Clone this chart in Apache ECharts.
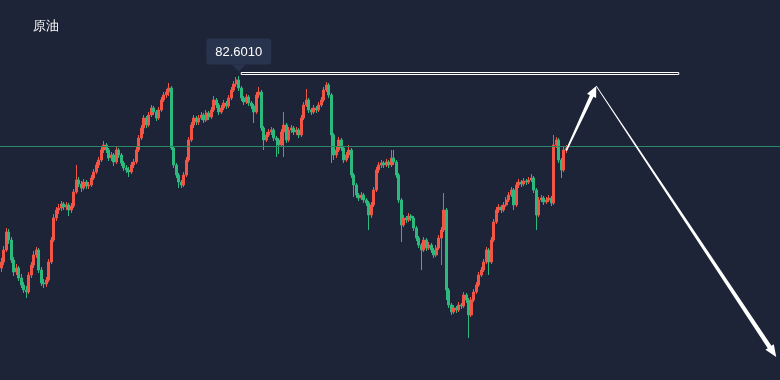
<!DOCTYPE html>
<html>
<head>
<meta charset="utf-8">
<script src="https://cdn.jsdelivr.net/npm/echarts@6/dist/echarts.min.js"></script>
<style>
html,body{margin:0;padding:0;background:#1d2437;}
#c{width:780px;height:380px;}
</style>
</head>
<body>
<div id="c"></div>
<script>
// ---- data ----
const titleText = '原油';
const openP = [
73.00,73.30,73.90,74.80,74.40,73.40,72.80,73.00,72.50,72.15,
71.90,71.80,72.65,73.15,73.65,73.90,72.90,72.25,72.20,72.40,
73.30,74.40,75.50,75.90,76.00,76.20,76.05,76.15,75.90,76.10,
76.80,77.40,77.20,77.00,77.30,77.10,77.15,77.50,77.80,78.15,
78.40,78.90,79.15,78.90,78.50,78.65,78.30,78.90,78.65,78.25,
78.00,77.90,77.80,78.15,78.30,78.90,79.50,80.00,80.50,80.15,
80.65,81.00,80.80,80.50,80.90,81.40,81.65,81.80,82.00,79.00,
78.15,77.65,77.30,77.15,77.65,78.40,79.40,80.15,80.50,80.30,
80.50,80.65,80.40,80.75,80.55,80.90,81.40,81.15,80.80,81.00,
81.25,81.10,81.50,81.90,82.20,82.40,82.00,81.50,81.30,81.55,
81.25,81.10,80.80,81.65,81.80,80.00,79.40,79.65,79.80,79.90,
79.50,79.40,79.15,79.80,80.15,79.40,79.90,80.00,79.80,79.90,
79.65,80.50,81.15,81.40,80.90,80.80,81.00,80.90,81.15,81.40,
81.90,82.15,81.65,79.65,78.65,78.90,79.40,79.00,78.40,78.65,
78.90,77.65,77.15,76.65,76.50,76.65,76.40,76.25,75.65,76.15,
76.90,77.90,78.15,78.25,78.15,78.30,78.15,78.50,78.30,77.65,
76.40,75.15,75.50,75.40,75.60,75.50,75.00,74.50,74.15,73.90,
74.40,74.00,74.15,73.90,73.65,74.00,74.50,74.90,75.90,71.90,
71.15,70.80,71.00,70.90,71.15,71.10,71.65,71.40,70.65,71.40,
71.80,72.15,72.65,72.90,73.30,73.90,73.30,74.40,75.30,75.90,
76.05,75.90,76.15,76.40,76.65,76.90,76.15,77.15,77.30,77.20,
77.35,77.30,77.40,77.50,76.90,75.65,76.40,76.50,76.30,76.40,
76.50,76.25,79.15,79.40,78.40,77.90,78.90
];
const closeP = [
73.30,73.90,74.80,74.40,73.40,72.80,73.00,72.50,72.15,71.90,
71.80,72.65,73.15,73.65,73.90,72.90,72.25,72.20,72.40,73.30,
74.40,75.50,75.90,76.00,76.20,76.05,76.15,75.90,76.10,76.80,
77.40,77.20,77.00,77.30,77.10,77.15,77.50,77.80,78.15,78.40,
78.90,79.15,78.90,78.50,78.65,78.30,78.90,78.65,78.25,78.00,
77.90,77.80,78.15,78.30,78.90,79.50,80.00,80.50,80.15,80.65,
81.00,80.80,80.50,80.90,81.40,81.65,81.80,82.00,79.00,78.15,
77.65,77.30,77.15,77.65,78.40,79.40,80.15,80.50,80.30,80.50,
80.65,80.40,80.75,80.55,80.90,81.40,81.15,80.80,81.00,81.25,
81.10,81.50,81.90,82.20,82.40,82.00,81.50,81.30,81.55,81.25,
81.10,80.80,81.65,81.80,80.00,79.40,79.65,79.80,79.90,79.50,
79.40,79.15,79.80,80.15,79.40,79.90,80.00,79.80,79.90,79.65,
80.50,81.15,81.40,80.90,80.80,81.00,80.90,81.15,81.40,81.90,
82.15,81.65,79.65,78.65,78.90,79.40,79.00,78.40,78.65,78.90,
77.65,77.15,76.65,76.50,76.65,76.40,76.25,75.65,76.15,76.90,
77.90,78.15,78.25,78.15,78.30,78.15,78.50,78.30,77.65,76.40,
75.15,75.50,75.40,75.60,75.50,75.00,74.50,74.15,73.90,74.40,
74.00,74.15,73.90,73.65,74.00,74.50,74.90,75.90,71.90,71.15,
70.80,71.00,70.90,71.15,71.10,71.65,71.40,70.65,71.40,71.80,
72.15,72.65,72.90,73.30,73.90,73.30,74.40,75.30,75.90,76.05,
75.90,76.15,76.40,76.65,76.90,76.15,77.15,77.30,77.20,77.35,
77.30,77.40,77.50,76.90,75.65,76.40,76.50,76.30,76.40,76.50,
76.25,79.15,79.40,78.40,77.90,78.90,79.00
];
const lowP = [
72.80,73.15,73.80,74.20,73.25,72.60,72.65,72.35,72.00,71.75,
71.50,71.70,72.50,73.00,73.50,72.75,72.10,72.00,72.05,72.30,
73.20,74.30,75.35,75.70,75.85,75.90,75.90,75.60,75.75,76.00,
76.70,77.05,76.80,76.90,76.95,76.95,77.05,77.40,77.70,78.00,
78.30,78.75,78.75,78.35,78.35,78.10,78.20,78.50,78.10,77.85,
77.75,77.55,77.70,78.00,78.20,78.80,79.40,79.70,80.00,80.05,
80.55,80.65,80.35,80.40,80.80,81.30,81.50,81.60,78.90,78.00,
77.50,77.00,77.00,77.05,77.55,78.30,79.30,80.00,80.15,80.15,
80.40,80.25,80.30,80.40,80.45,80.80,81.00,80.65,80.70,80.90,
80.95,81.00,81.40,81.80,82.05,81.85,81.35,81.15,81.20,81.10,
80.95,80.25,80.70,81.50,79.85,78.90,79.30,79.55,79.65,79.35,
78.55,78.70,79.05,78.55,79.25,79.30,79.75,79.65,79.65,79.50,
79.55,80.40,81.05,80.75,80.65,80.70,80.75,80.80,81.05,81.30,
81.80,81.50,78.25,78.40,78.50,78.80,78.85,78.25,78.30,78.50,
77.50,76.55,76.50,76.35,76.40,76.25,76.10,74.90,75.50,76.05,
76.80,77.75,78.00,78.00,78.05,78.00,78.05,78.15,77.50,76.25,
74.30,75.05,75.25,75.30,75.35,74.85,74.35,74.00,72.90,73.80,
73.85,73.90,73.75,73.50,73.55,73.90,73.15,74.80,71.40,71.00,
70.65,70.70,70.75,70.80,70.95,71.00,71.25,69.50,70.55,71.30,
71.70,72.05,72.55,72.80,73.20,72.65,73.20,74.30,75.20,75.75,
75.75,75.80,76.05,76.30,76.55,75.90,76.05,77.00,77.05,77.10,
77.15,77.20,77.30,76.75,74.90,75.55,76.30,76.15,76.20,76.30,
76.10,76.15,79.00,78.25,77.50,77.80,78.75
];
const highP = [
73.50,74.10,75.00,74.95,74.55,73.55,73.20,73.10,72.70,72.30,
72.10,72.80,73.30,73.85,74.05,74.00,73.05,72.45,72.55,73.45,
74.55,75.70,76.05,76.20,76.35,76.30,76.30,76.25,76.25,76.95,
78.15,77.55,77.35,77.45,77.40,77.30,77.65,77.95,78.30,78.55,
79.05,79.35,79.25,79.00,78.80,78.75,79.05,79.00,78.75,78.35,
78.15,78.05,78.30,78.45,79.05,79.65,80.15,80.65,80.60,80.80,
81.15,81.10,80.90,81.05,81.55,81.80,81.95,82.25,82.10,79.10,
78.25,77.75,77.40,77.80,78.55,79.55,80.30,80.65,80.60,80.65,
80.80,80.75,80.90,80.85,81.05,81.60,81.50,81.25,81.15,81.40,
81.35,81.65,82.05,82.35,82.55,82.601,82.10,81.60,81.70,81.65,
81.35,81.20,81.80,82.05,81.90,80.10,79.80,79.95,80.05,80.00,
79.60,79.50,79.95,80.80,80.25,80.05,80.15,80.10,80.05,80.00,
80.65,81.30,81.95,81.50,81.00,81.15,81.10,81.30,81.55,82.05,
82.30,82.25,81.75,79.75,79.05,79.55,79.50,79.10,78.80,79.15,
79.00,77.75,77.25,76.75,76.80,76.75,76.50,76.35,76.30,77.05,
78.05,78.30,78.40,78.35,78.45,78.40,78.90,78.90,78.40,77.75,
76.50,75.65,75.60,75.75,75.70,75.60,75.10,74.60,74.25,74.55,
74.50,74.30,74.25,74.00,74.15,74.65,75.05,76.75,76.00,72.00,
71.25,71.15,71.10,71.30,71.25,71.80,71.75,71.50,71.55,71.95,
72.30,72.80,73.05,73.45,74.05,74.00,74.55,75.45,76.05,76.20,
76.15,76.30,76.55,76.80,77.05,77.00,77.30,77.45,77.40,77.50,
77.45,77.55,77.70,77.60,77.00,76.55,76.65,76.60,76.55,76.65,
76.60,79.65,79.55,79.50,78.50,79.05,79.15
];
const categoryCount = 312;
const yMin = 67.4, yMax = 86.4;
const currentLevel = 79.10;           // horizontal reference line
const boxFrom = [96, 82.775];         // resistance box (category index, price)
const boxTo = [271, 82.675];
const arrowFromX = [226, 238];
const arrowFromY = [78.87, 82.10];
const arrowToX = [238, 310];
const arrowToY = [82.10, 68.55];

// ---- build ----
const categories = Array.from({length: categoryCount}, (_, i) => String(i));
const candles = openP.map((o, i) => [o, closeP[i], lowP[i], highP[i]]);
const arrows = arrowFromX.map((x, i) => [x, arrowFromY[i], arrowToX[i], arrowToY[i]]);

const UP = '#f05545', DOWN = '#2db87d';
const chart = echarts.init(document.getElementById('c'));

function renderArrow(params, api) {
  const idx = params.dataIndex;
  const p0 = api.coord([api.value(0), api.value(1)]);
  const p1 = api.coord([api.value(2), api.value(3)]);
  const dx = p1[0] - p0[0], dy = p1[1] - p0[1];
  const len = Math.sqrt(dx * dx + dy * dy);
  const ux = dx / len, uy = dy / len;
  const nx = -uy, ny = ux;
  const w0 = idx === 0 ? 1.5 : 0.8;
  const w1 = idx === 0 ? 4 : 4.5;
  const hw = 10;
  const hl = idx === 0 ? 11 : 12;
  const bx = p1[0] - ux * hl, by = p1[1] - uy * hl;
  const pts = [
    [p0[0] + nx * w0 / 2, p0[1] + ny * w0 / 2],
    [bx + nx * w1 / 2, by + ny * w1 / 2],
    [bx + nx * hw / 2, by + ny * hw / 2],
    [p1[0], p1[1]],
    [bx - nx * hw / 2, by - ny * hw / 2],
    [bx - nx * w1 / 2, by - ny * w1 / 2],
    [p0[0] - nx * w0 / 2, p0[1] - ny * w0 / 2]
  ];
  return { type: 'polygon', shape: { points: pts }, style: { fill: '#ffffff' } };
}

chart.setOption({
  animation: false,
  backgroundColor: '#1d2437',
  title: {
    text: titleText, left: 28, top: 15,
    textStyle: { color: '#ffffff', fontSize: 13, fontWeight: 'normal' }
  },
  grid: { left: 0, right: 0, top: 0, bottom: 0 },
  xAxis: {
    type: 'category', data: categories, boundaryGap: true,
    axisLine: { show: false }, axisTick: { show: false }, axisLabel: { show: false }, splitLine: { show: false }
  },
  yAxis: {
    type: 'value', min: yMin, max: yMax, scale: true,
    axisLine: { show: false }, axisTick: { show: false }, axisLabel: { show: false }, splitLine: { show: false }
  },
  series: [
    {
      type: 'candlestick',
      data: candles,
      barWidth: '90%',
      itemStyle: { color: UP, color0: DOWN, borderColor: UP, borderColor0: DOWN, borderWidth: 1 },
      markLine: {
        silent: true, symbol: 'none', animation: false,
        label: { show: false },
        lineStyle: { color: '#2a8a68', width: 1, type: 'solid' },
        data: [{ yAxis: currentLevel }]
      },
      markArea: {
        silent: true,
        itemStyle: { color: 'rgba(0,0,0,0)', borderColor: '#ffffff', borderWidth: 1 },
        data: [[{ coord: boxFrom }, { coord: boxTo }]]
      },
      markPoint: {
        silent: true,
        data: [{
          type: 'max', valueDim: 'highest',
          symbol: 'triangle', symbolRotate: 180, symbolSize: [14, 7], symbolOffset: [0, -8],
          itemStyle: { color: '#28334d' },
          label: {
            show: true, position: 'top', distance: 0,
            backgroundColor: '#28334d', borderRadius: 3, padding: [7, 9, 6, 9],
            color: '#ffffff', fontSize: 13, lineHeight: 13,
            formatter: p => Number(p.value).toFixed(4)
          }
        }]
      }
    },
    {
      type: 'custom',
      renderItem: renderArrow,
      data: arrows,
      encode: { x: [0, 2], y: [1, 3] },
      silent: true,
      z: 5
    }
  ]
});
</script>
</body>
</html>
